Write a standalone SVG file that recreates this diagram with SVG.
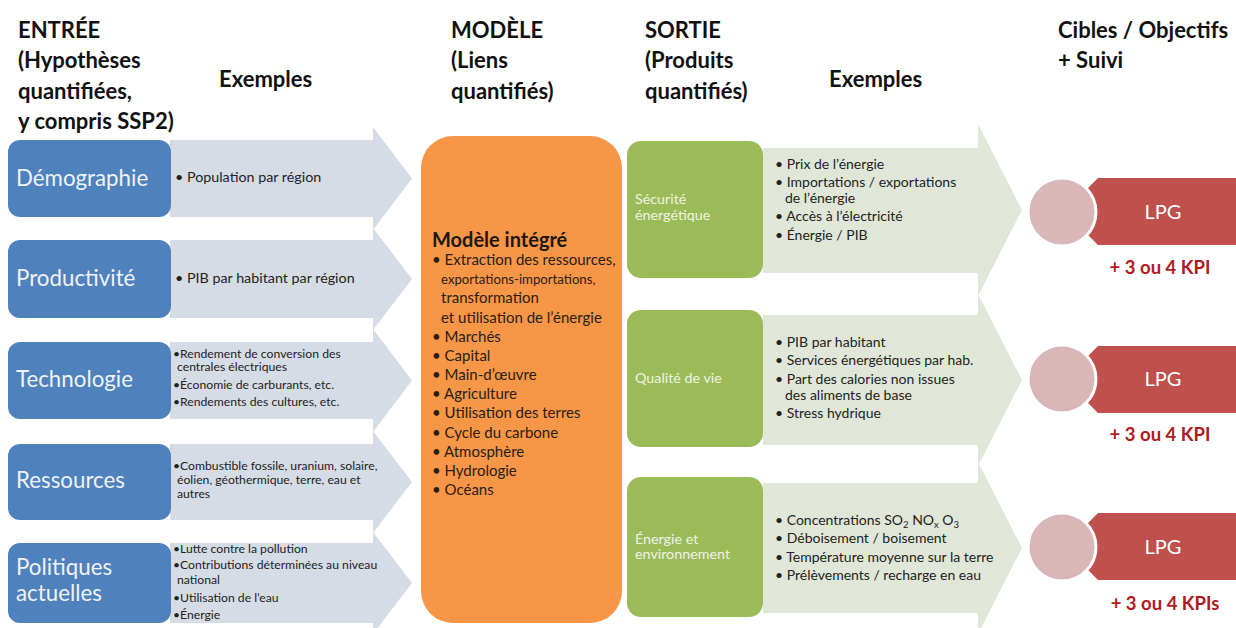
<svg xmlns="http://www.w3.org/2000/svg" width="1236" height="628" viewBox="0 0 1236 628">
  <style>
    text { font-family: Lato, "Open Sans", "Liberation Sans", sans-serif; }
    .hdr { font-size: 22px; font-weight: bold; fill: #111; }
    .in-box { fill: #4f81bd; }
    .in-lbl { font-size: 22.3px; fill: #eef2f9; }
    .in-arrow { fill: #d6dce6; }
    .ex { font-size: 14.3px; fill: #222; }
    .ex-s { font-size: 12.2px; fill: #222; }
    .ex-o { font-size: 14px; fill: #222; }
    .model { fill: #f79646; }
    .model-t { font-size: 15px; fill: #2a1d12; }
    .out-box { fill: #9bbb59; }
    .out-lbl { font-size: 14.3px; fill: #eef4e2; }
    .out-arrow { fill: #e1e7d8; }
    .goal-c { fill: #d9b6b7; stroke: #ffffff; stroke-width: 3; }
    .goal-b { fill: #c0504d; }
    .goal-t { font-size: 20px; fill: #ffffff; text-anchor: middle; }
    .kpi { font-size: 18.5px; font-weight: bold; fill: #b1191e; text-anchor: middle; }
    .sub { font-size: 9.5px; }
  </style>

  <rect width="1236" height="628" fill="#ffffff"/>

  <!-- column headings -->
  <g id="headings">
    <text class="hdr" x="18" y="38">ENTRÉE</text>
    <text class="hdr" x="18" y="68">(Hypothèses</text>
    <text class="hdr" x="18" y="99">quantifiées,</text>
    <text class="hdr" x="18" y="129">y compris SSP2)</text>
    <text class="hdr" x="219" y="87">Exemples</text>
    <text class="hdr" x="451" y="38">MODÈLE</text>
    <text class="hdr" x="451" y="68">(Liens</text>
    <text class="hdr" x="451" y="99">quantifiés)</text>
    <text class="hdr" x="645" y="38">SORTIE</text>
    <text class="hdr" x="645" y="68">(Produits</text>
    <text class="hdr" x="645" y="99">quantifiés)</text>
    <text class="hdr" x="829" y="87">Exemples</text>
    <text class="hdr" x="1058" y="38">Cibles / Objectifs</text>
    <text class="hdr" x="1058" y="68">+ Suivi</text>
  </g>

  <!-- flow arrows: inputs into the model, outputs towards targets -->
  <g id="connectors">
    <path class="in-arrow" d="M170 140 H373 V127 L412 178.5 L373 230 V217 H170 Z"/>
    <path class="in-arrow" d="M170 240 H373 V228 L412 279 L373 330 V318 H170 Z"/>
    <path class="in-arrow" d="M170 342 H373 V329 L412 380.5 L373 432 V419 H170 Z"/>
    <path class="in-arrow" d="M170 444 H373 V431 L412 482 L373 533 V520 H170 Z"/>
    <path class="in-arrow" d="M170 543 H373 V532 L412 583 L373 634 V623 H170 Z"/>
    <path class="out-arrow" d="M763 148 H978 V124 L1022 210 L978 296 V273 H763 Z"/>
    <path class="out-arrow" d="M763 315 H978 V294 L1022 380 L978 466 V445 H763 Z"/>
    <path class="out-arrow" d="M763 483 H978 V462 L1022 548 L978 634 V613 H763 Z"/>
  </g>

  <!-- inputs -->
  <g id="in-demographie">
    <rect class="in-box" x="8" y="140" width="163" height="77" rx="12"/>
    <text class="in-lbl" x="16" y="186">Démographie</text>
    <text class="ex" x="175" y="182">• Population par région</text>
  </g>
  <g id="in-productivite">
    <rect class="in-box" x="8" y="240" width="163" height="78" rx="12"/>
    <text class="in-lbl" x="16" y="286">Productivité</text>
    <text class="ex" x="175" y="283">• PIB par habitant par région</text>
  </g>
  <g id="in-technologie">
    <rect class="in-box" x="8" y="342" width="163" height="77" rx="12"/>
    <text class="in-lbl" x="16" y="387">Technologie</text>
    <text class="ex-s" x="173" y="358">•Rendement  de conversion des</text>
    <text class="ex-s" x="177" y="371">centrales électriques</text>
    <text class="ex-s" x="173" y="389">•Économie de carburants, etc.</text>
    <text class="ex-s" x="173" y="406">•Rendements  des cultures, etc.</text>
  </g>
  <g id="in-ressources">
    <rect class="in-box" x="8" y="444" width="163" height="76" rx="12"/>
    <text class="in-lbl" x="16" y="488">Ressources</text>
    <text class="ex-s" x="173" y="470">•Combustible fossile, uranium, solaire,</text>
    <text class="ex-s" x="177" y="484">éolien, géothermique,  terre,  eau et</text>
    <text class="ex-s" x="177" y="498">autres</text>
  </g>
  <g id="in-politiques">
    <rect class="in-box" x="8" y="543" width="163" height="80" rx="12"/>
    <text class="in-lbl" x="16" y="575">Politiques</text>
    <text class="in-lbl" x="16" y="601">actuelles</text>
    <text class="ex-s" x="173" y="553">•Lutte  contre  la pollution</text>
    <text class="ex-s" x="173" y="569">•Contributions déterminées  au niveau</text>
    <text class="ex-s" x="177" y="584">national</text>
    <text class="ex-s" x="173" y="602">•Utilisation de l’eau</text>
    <text class="ex-s" x="173" y="619">•Énergie</text>
  </g>

  <!-- integrated model -->
  <g id="model">
    <rect class="model" x="421" y="136" width="201" height="487" rx="32"/>
    <text x="432" y="247" style="font-size:20px;font-weight:bold;fill:#1e1610">Modèle intégré</text>
    <text class="model-t" x="432" y="265">• Extraction des ressources,</text>
    <text class="model-t" x="441" y="284" style="font-size:13.2px">exportations-importations,</text>
    <text class="model-t" x="441" y="303">transformation</text>
    <text class="model-t" x="441" y="323">et utilisation de l’énergie</text>
    <text class="model-t" x="432" y="342">• Marchés</text>
    <text class="model-t" x="432" y="361">• Capital</text>
    <text class="model-t" x="432" y="380">• Main-d’œuvre</text>
    <text class="model-t" x="432" y="399">• Agriculture</text>
    <text class="model-t" x="432" y="418">• Utilisation des terres</text>
    <text class="model-t" x="432" y="438">• Cycle du carbone</text>
    <text class="model-t" x="432" y="457">• Atmosphère</text>
    <text class="model-t" x="432" y="476">• Hydrologie</text>
    <text class="model-t" x="432" y="495">• Océans</text>
  </g>

  <!-- outputs -->
  <g id="out-securite">
    <rect class="out-box" x="627" y="141" width="136" height="137" rx="14"/>
    <text class="out-lbl" x="635" y="204">Sécurité</text>
    <text class="out-lbl" x="635" y="220">énergétique</text>
    <text class="ex-o" x="775" y="169">• Prix de l’énergie</text>
    <text class="ex-o" x="775" y="187">• Importations / exportations</text>
    <text class="ex-o" x="785" y="203">de l’énergie</text>
    <text class="ex-o" x="775" y="221">• Accès à l’électricité</text>
    <text class="ex-o" x="775" y="240">• Énergie / PIB</text>
  </g>
  <g id="out-qualite">
    <rect class="out-box" x="627" y="310" width="136" height="137" rx="14"/>
    <text class="out-lbl" x="635" y="383">Qualité de vie</text>
    <text class="ex-o" x="775" y="347">• PIB par habitant</text>
    <text class="ex-o" x="775" y="365">• Services énergétiques par hab.</text>
    <text class="ex-o" x="775" y="384">• Part des calories non issues</text>
    <text class="ex-o" x="785" y="400">des aliments de base</text>
    <text class="ex-o" x="775" y="418">• Stress hydrique</text>
  </g>
  <g id="out-environnement">
    <rect class="out-box" x="627" y="477" width="136" height="140" rx="14"/>
    <text class="out-lbl" x="635" y="544">Énergie et</text>
    <text class="out-lbl" x="635" y="559">environnement</text>
    <text class="ex-o" x="775" y="525">• Concentrations SO<tspan class="sub" dy="3">2</tspan><tspan dy="-3"> NO</tspan><tspan class="sub" dy="3">x</tspan><tspan dy="-3"> O</tspan><tspan class="sub" dy="3">3</tspan></text>
    <text class="ex-o" x="775" y="543">• Déboisement / boisement</text>
    <text class="ex-o" x="775" y="562">• Température moyenne sur la terre</text>
    <text class="ex-o" x="775" y="580">• Prélèvements / recharge en eau</text>
  </g>

  <!-- targets and monitoring -->
  <g id="goal-1">
    <path class="goal-b" d="M1098 178 H1236 V245 H1098 L1088 235 V188 Z"/>
    <circle class="goal-c" cx="1062" cy="212" r="34"/>
    <text class="goal-t" x="1163" y="219">LPG</text>
    <text class="kpi" x="1160" y="274">+ 3 ou 4 KPI</text>
  </g>
  <g id="goal-2">
    <path class="goal-b" d="M1098 346 H1236 V413 H1098 L1088 403 V356 Z"/>
    <circle class="goal-c" cx="1062" cy="379" r="34"/>
    <text class="goal-t" x="1163" y="386">LPG</text>
    <text class="kpi" x="1160" y="441">+ 3 ou 4 KPI</text>
  </g>
  <g id="goal-3">
    <path class="goal-b" d="M1098 513 H1236 V580 H1098 L1088 570 V523 Z"/>
    <circle class="goal-c" cx="1062" cy="547" r="34"/>
    <text class="goal-t" x="1163" y="554">LPG</text>
    <text class="kpi" x="1165" y="610">+ 3 ou 4 KPIs</text>
  </g>
</svg>
